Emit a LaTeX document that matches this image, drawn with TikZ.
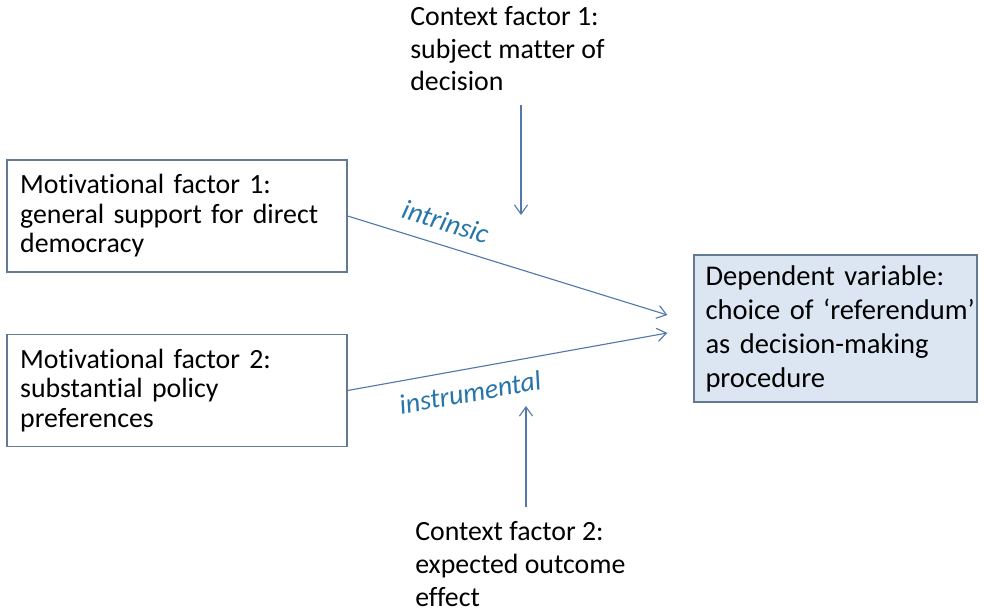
\documentclass[tikz,border=0pt]{standalone}
\usepackage{fontspec}
\setmainfont{Carlito}[Ligatures=NoCommon]
\usetikzlibrary{positioning}
\usetikzlibrary{arrows.meta}
\definecolor{boxline}{RGB}{100,122,146}
\definecolor{depfill}{RGB}{220,230,242}
\definecolor{arrowcol}{RGB}{84,120,170}
\definecolor{labelcol}{RGB}{38,118,170}
\def\bigfont{\fontsize{19.8pt}{23.3pt}\selectfont}
\def\boxfont{\fontsize{19.8pt}{21pt}\selectfont\hyphenpenalty=10000 }
\def\depfont{\fontsize{20.3pt}{24.2pt}\selectfont\hyphenpenalty=10000 }
\tikzset{
factor/.style={draw=boxline, fill=white, line width=0.9pt,
	minimum width=8.5cm, minimum height=2.8cm, text width=7.84cm,
	align=left, inner xsep=0.33cm, font=\boxfont},
depvar/.style={factor, fill=depfill, minimum width=7.075cm,
	minimum height=3.675cm, text width=6.5cm, inner xsep=0.28cm, font=\depfont},
context/.style={align=left, inner sep=0pt, anchor=north west, font=\bigfont},
link/.style={draw=arrowcol, line width=0.8pt,
	-{Straight Barb[length=2.3mm,width=3.3mm]}},
linklabel/.style={sloped, font=\bigfont\itshape, text=labelcol},
}
\begin{document}
\begin{tikzpicture}
\useasboundingbox (0,0) rectangle (24.6,15.3);
%Place the nodes
\node[factor] (mot1) at (4.425,9.9) {Motivational factor 1:\\general support for direct\\democracy};
\node[factor] (mot2) at (4.425,5.5375) {Motivational factor 2:\\substantial policy\\preferences};
\node[depvar] (dep) at (20.8875,7.0875) {Dependent variable:\\\mbox{choice of ‘referendum’}\\as decision-making\\procedure};
\node[context] (ctx1) at (10.25,15.15) {Context factor 1:\\subject matter of\\decision};
\node[context] (ctx2) at (10.375,2.26) {Context factor 2:\\expected outcome\\effect};

%Arrow ends
\coordinate (intrinsicend) at ([xshift=-0.65cm,yshift=0.3375cm]dep.west);
\coordinate (instrend) at ([xshift=-0.65cm,yshift=-0.1125cm]dep.west);
\coordinate (ctx1from) at (13.025,12.675);
\coordinate (ctx1to) at (13.025,9.925);
\coordinate (ctx2from) at (13.15,2.625);
\coordinate (ctx2to) at (13.15,5.15);

%
\draw[link] (mot1.east) -- node[linklabel, above=6pt, pos=0.285] {intrinsic} (intrinsicend);
\draw[link] (mot2.east) -- node[linklabel, below=6pt, pos=0.37] {instrumental} (instrend);

%
\draw[link] (ctx1from) -- (ctx1to);
\draw[link] (ctx2from) -- (ctx2to);

\end{tikzpicture}
\end{document}
